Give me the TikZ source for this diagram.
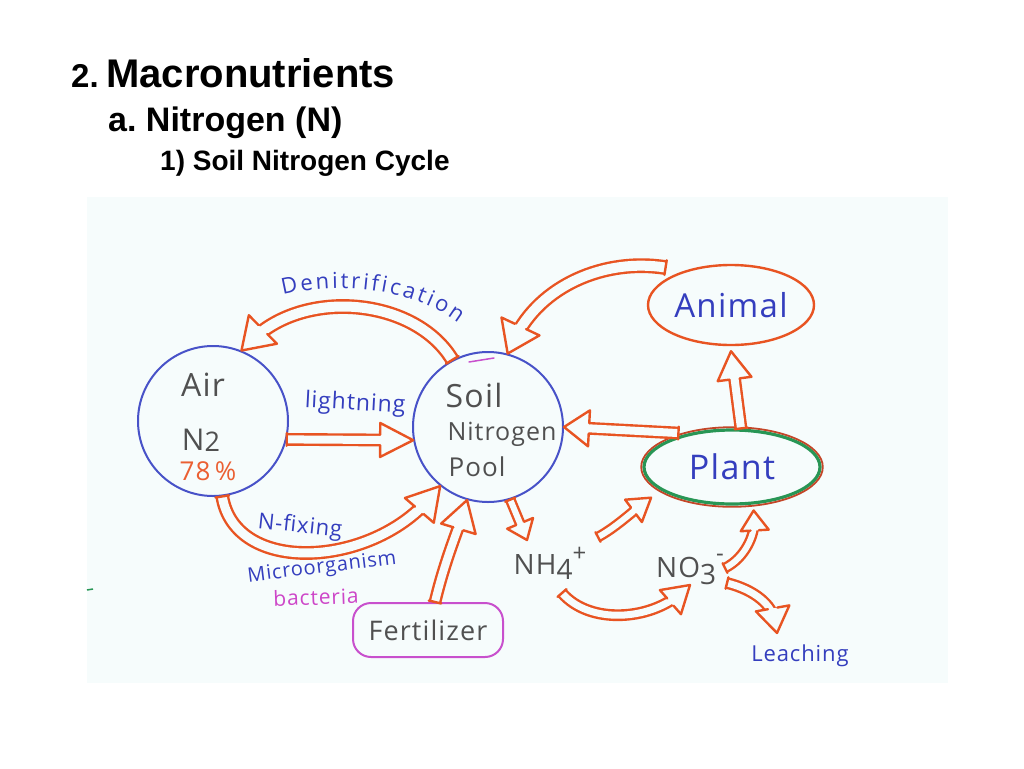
\documentclass[tikz,border=0pt]{standalone}
\usepackage{fontspec}
\setmainfont{Liberation Sans}
\newfontfamily\hand{Open Sans}[LetterSpace=4]
\usetikzlibrary{shapes.geometric,decorations.markings,decorations.text,calc}
\frenchspacing
\definecolor{paper}{RGB}{246,252,252}
\definecolor{arr}{RGB}{232,84,34}
\definecolor{cblue}{RGB}{72,82,200}
\definecolor{tblue}{RGB}{52,62,190}
\definecolor{tgray}{RGB}{80,80,80}
\definecolor{fmag}{RGB}{200,80,205}
\definecolor{bmag}{RGB}{205,70,200}
\definecolor{pgreen}{RGB}{40,150,85}
\definecolor{pbrown}{RGB}{195,70,40}
\definecolor{pct}{RGB}{235,95,50}
\newcommand{\hsz}[1]{\fontsize{#1}{#1}\selectfont}
\tikzset{
  hollow/.style n args={3}{draw=arr, line width=2.4pt, double=paper, double distance=#1pt,
    line cap=butt, shorten >=#2pt/2,
    postaction={decorate, decoration={markings,
      mark=at position 0 with {\draw[arr, line width=2.4pt, shorten >=0pt, shorten <=0pt, line cap=round]
          (0,{-#1/2-2.4}) -- (0,{#1/2+2.4});},
      mark=at position 0.9999 with {\fill[paper] (0,0) -- (-#2,#3) -- (-#2,-#3) -- cycle;
        \draw[arr, line width=2.4pt, line join=round, line cap=round, shorten >=0pt, shorten <=0pt]
          (-#2,{#1/2+1.2}) -- (-#2,#3) -- (0,0) -- (-#2,-#3) -- (-#2,{-#1/2-1.2});}}}},
  pool/.style={circle, draw=cblue, line width=2pt, minimum size=150pt, inner sep=0pt},
  hl/.style={inner sep=0pt, font=\hand},
  ttl/.style={anchor=base west, inner sep=0pt, font=\bfseries}
}
\begin{document}
\begin{tikzpicture}[x=1pt,y=-1pt]
\useasboundingbox (0,0) rectangle (1024,768);
\fill[white] (0,0) rectangle (1024,768);
\fill[paper] (87,197) rectangle (948,683);

% titles
\node[ttl, font=\bfseries\hsz{33}] (t2) at (71,87) {2.};
\node[ttl, font=\bfseries\hsz{40}] (t1) at (106,87) {Macronutrients};
\node[ttl, font=\bfseries\hsz{34}] (ta) at (108,131) {a. Nitrogen (N)};
\node[ttl, font=\bfseries\hsz{28}] (tb) at (160,170) {1) Soil Nitrogen Cycle};

% main shapes
\node[pool] (air) at (213,421) {};
\node[pool] (soil) at (488,427) {};
\node[ellipse, draw=arr, line width=2.4pt, minimum width=166pt, minimum height=80pt, inner sep=0pt,
      font=\hand\hsz{33}, text=tblue] (animal) at (731,305) {Animal};
\node[ellipse, draw=pgreen, line width=3.2pt, minimum width=176pt, minimum height=74pt, inner sep=0pt,
      font=\hand\hsz{34}, text=tblue] (plant) at (732,467) {Plant};
\draw[pbrown, line width=1.8pt] (plant.center) ellipse [x radius=90.8pt, y radius=39.8pt];
\node[rectangle, rounded corners=18pt, draw=fmag, line width=2pt, minimum width=150pt, minimum height=54pt,
      inner sep=0pt, font=\hand\hsz{27}, text=tgray] (fert) at (428,630) {Fertilizer};

% texts in circles
\node[hl, font=\hand\hsz{32}, text=tgray] (airt) at (203,385) {Air};
\node[hl, font=\hand\hsz{30}, text=tgray] (n2) at (201,440) {N\raisebox{-1pt}{\hsz{27}2}};
\node[hl, font=\hand\hsz{26}, text=pct] (pc) at (208,471) {78\,\%};
\node[hl, font=\hand\hsz{32}, text=tgray] (soilt) at (474,395) {Soil};
\node[hl, font=\hand\hsz{25}, text=tgray] (nitt) at (502,434) {Nitrogen};
\node[hl, font=\hand\hsz{26}, text=tgray] (poolt) at (477,467) {Pool};
\draw[fmag, line width=1.5pt, line cap=round] (469,362) -- (494,358);

% ions and labels
\node[hl, anchor=base, font=\hand\hsz{28}, text=tgray] (nh4) at (550,574)
  {NH\raisebox{-5pt}{4}\raisebox{13pt}{\hsz{24}+}};
\node[hl, anchor=base, font=\hand\hsz{28}, text=tgray] (no3) at (690,577)
  {NO\raisebox{-7pt}{3}\raisebox{16pt}{\hsz{24}-}};
\node[hl, anchor=base, font=\hand\hsz{22}, text=tblue] (leach) at (800,661) {Leaching};
\node[hl, font=\hand\hsz{23}, text=tblue, rotate=-3] (light) at (355,404) {lightning};
\node[hl, font=\hand\hsz{22}, text=tblue, rotate=-6] (nfix) at (300,527) {N-fixing};
\node[hl, font=\hand\hsz{20}, text=tblue, rotate=7] (micro) at (322,568) {Microorganism};
\node[hl, font=\hand\hsz{21}, text=bmag, rotate=2] (bact) at (316,597) {bacteria};
\path[decorate, decoration={text along path, text align=fit to path,
      text={|\hand\hsz{22}\color{tblue}|Denitrification}}]
  (283,295) .. controls (340,281) and (412,288) .. (458,323);

% connectors
\draw[hollow={10}{30}{20}] (soil.118) .. controls (415,298) and (305,288) .. (air.68);
\draw[hollow={10}{30}{21}] ([shift={(-11,-6)}]animal.150) .. controls (605,258) and (540,285) .. (soil.75);
\draw[hollow={8}{33}{17}] (air.-14) -- (soil.190);
\draw[hollow={9}{32}{19}] (air.-83) .. controls (235,575) and (370,568) .. (soil.231);
\draw[hollow={8}{30}{18}] ([xshift=7pt]fert.north) .. controls (445,560) and (458,530) .. (soil.254);
\draw[hollow={6}{18}{14}] (soil.-73) -- ([shift={(-23,-34)}]nh4.base);
\draw[hollow={8}{25}{18}] ([yshift=3pt]plant.150) -- (soil.0);
\draw[hollow={8}{28}{17}] ([xshift=9pt]plant.north) -- ([yshift=-5pt]animal.south);
\draw[hollow={6}{22}{14}] ([shift={(48,-37)}]nh4.base) .. controls (615,528) and (632,512) .. ([shift={(-14,5)}]plant.201);
\draw[hollow={7}{26}{16}] ([shift={(12,19)}]nh4.base) .. controls (590,625) and (650,620) .. ([shift={(0,8)}]no3.base);
\draw[hollow={6}{20}{14}] ([shift={(35,-9)}]no3.base) .. controls (745,558) and (755,535) .. ([yshift=-6pt]plant.-60);
\draw[hollow={7}{25}{17}] ([shift={(37,6)}]no3.base) .. controls (755,590) and (772,605) .. ([shift={(-23,-28)}]leach.base);

\draw[pgreen, line width=1.5pt] (87,590) -- (93,589);
\end{tikzpicture}
\end{document}
